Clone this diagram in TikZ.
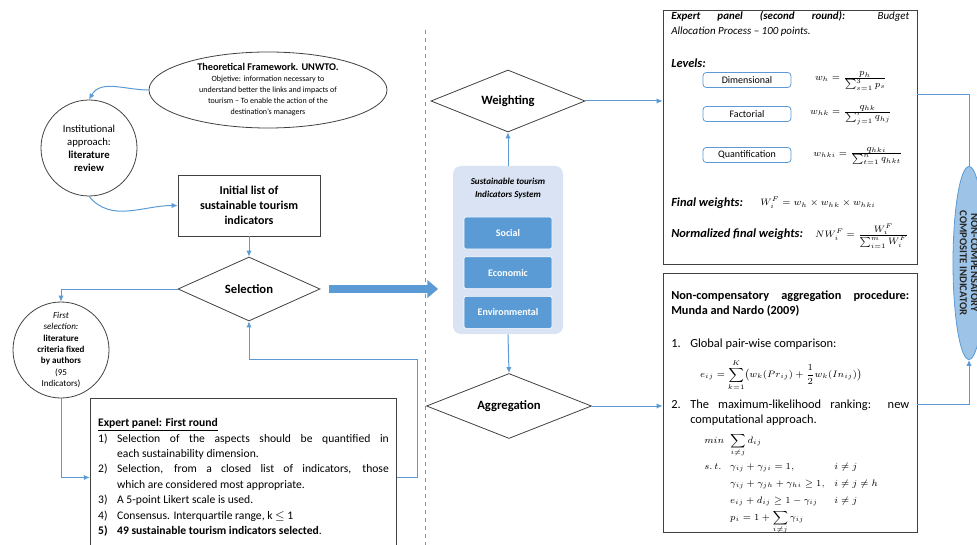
\documentclass[tikz,border=0pt]{standalone}
\usepackage{amsmath,amssymb}
\usepackage{fontspec}
\setmainfont{Carlito}
\usepackage{tikz}
\usetikzlibrary{shapes.geometric,arrows.meta,positioning}
\definecolor{linkblue}{HTML}{5B9BD5}
\definecolor{tierblue}{HTML}{5B9BD5}
\definecolor{paleblue}{HTML}{DAE3F3}
\definecolor{compblue}{HTML}{9DC3E6}
\definecolor{edgegray}{HTML}{404040}
\newcommand{\fsz}[2]{\fontsize{#1}{#2}\selectfont}
\newcommand{\itm}[2]{\par\noindent\hangindent=14.25pt\hangafter=1\makebox[14.25pt][l]{#1}#2}
\newcommand{\wfrac}[2]{\frac{\textstyle #1}{\textstyle #2}}

\tikzset{
  link/.style={draw=linkblue, line width=0.75pt, -{Latex[length=4.5pt,width=4pt]}},
  wire/.style={draw=linkblue, line width=0.75pt},
  decision/.style={diamond, draw=edgegray, line width=0.6pt, aspect=2.4, inner sep=0pt, font=\fsz{9.5}{11}\bfseries},
  tier/.style={fill=tierblue, draw=white, line width=0.5pt, rounded corners=1.5pt, minimum width=66pt, minimum height=24pt, inner sep=0pt, text=white, font=\fsz{7.5}{9}\bfseries},
  levelbox/.style={draw=linkblue, line width=0.6pt, rounded corners=2.5pt, minimum width=66pt, minimum height=11.25pt, inner sep=0pt, font=\fsz{7.5}{9}},
  panel/.style={draw=edgegray, line width=0.6pt},
  boldlabel/.style={anchor=west, inner sep=0pt, font=\fsz{9.3}{10}\bfseries\itshape}
}

\begin{document}
\begin{tikzpicture}[x=0.75pt,y=-0.75pt]
\useasboundingbox (0,0) rectangle (977,545);
\clip (0,0) rectangle (977,545);
% split line
\draw[linkblue, dashed, line width=0.6pt] (425,30) -- (425,548);

% left column
\node[ellipse, panel, minimum width=178.5pt, minimum height=57pt, inner sep=0pt, align=center, font=\fsz{6}{8.25}] (theo) at (268,90)
  {{\fsz{7.7}{9}\bfseries Theoretical Framework. UNWTO.}\\Objetive: information necessary to\\understand better the links and impacts of\\tourism -- To enable the action of the\\destination's managers};
\node[circle, panel, minimum size=72pt, inner sep=0pt, align=center, font=\fsz{8}{9.75}] (inst) at (89,148)
  {Institutional\\approach:\\\textbf{literature}\\\textbf{review}};
\node[panel, minimum width=106.5pt, minimum height=45.75pt, align=center, font=\fsz{9}{11.25}\bfseries] (init) at (249,205.5)
  {Initial list of\\sustainable tourism\\indicators};
\node[decision, minimum width=106.5pt, minimum height=48pt] (sel) at (249,289) {Selection};
\node[circle, panel, minimum size=72pt, inner sep=0pt, align=center, font=\fsz{6.8}{8.5}] (first) at (61,350)
  {\textit{First}\\\textit{selection:}\\\textbf{literature}\\\textbf{criteria fixed}\\\textbf{by authors}\\(95\\Indicators)};
\node[panel, anchor=north, text width=218pt, inner xsep=6pt, inner ysep=15pt, align=justify, font=\fsz{8.7}{11.6}] (panelA) at (243.5,398)
  {\noindent\underline{\textbf{Expert panel: First round}}
   \itm{1)}{Selection of the aspects should be quantified in\linebreak each sustainability dimension.}
   \itm{2)}{Selection, from a closed list of indicators, those\linebreak which are considered most appropriate.}
   \itm{3)}{A 5-point Likert scale is used.}
   \itm{4)}{Consensus. Interquartile range, k $\leq$ 1}
   \itm{\textbf{5)}}{\textbf{49 sustainable tourism indicators selected}.}
   \par\vspace{10pt}};

\draw[link] (theo.west) to[out=180,in=60] (inst.north);
\draw[link] (inst.south) to[out=-50,in=180] (init.west);
\draw[link] (init.south) -- (sel.north);
\draw[link] (sel.west) -| (first.north);
\draw[link] (first.south) |- (panelA.west);
\coordinate (turn) at (417,359);
\draw[link] (panelA.east) -| (turn) -| (sel.south);

% centre column
\node[decision, minimum width=115.5pt, minimum height=46.5pt] (wgt) at (508,101) {Weighting};
\node[fill=paleblue, rounded corners=6pt, minimum width=82.5pt, minimum height=126pt] (sys) at (508,250) {};
\node[below=6pt of sys.north, align=center, font=\fsz{6.8}{9.5}\bfseries\itshape] (systitle) {Sustainable tourism\\Indicators System};
\node[tier] (social) at (508,233) {Social};
\node[tier, below=5.25pt of social] (eco) {Economic};
\node[tier, below=5.25pt of eco] (env) {Environmental};
\node[decision, minimum width=123.75pt, minimum height=48.75pt] (agg) at (509,406) {Aggregation};

\draw[line width=6pt, tierblue, -{Triangle[length=8pt,width=13pt]}] ([xshift=6.75pt]sel.east) -- ([xshift=-11pt]sys.west |- sel.east);
\draw[link] (sys.north) -- (wgt.south);
\draw[link] (sys.south) -- (agg.north);

% right column: weighting
\node[panel, minimum width=190.5pt, minimum height=190.5pt] (panelB) at (790,137) {};
\node[anchor=north west, inner sep=0pt, text width=178.5pt, align=justify, font=\fsz{8.2}{11.25}\itshape] (budget) at (671,11)
  {\textbf{Expert panel (second round):} Budget\linebreak Allocation Process -- 100 points.};
\node[boldlabel] (levels) at (671,63) {Levels:};
\node[levelbox] (dim) at (747,80) {Dimensional};
\node[levelbox] (fac) at (747,114) {Factorial};
\node[levelbox] (qua) at (747,155) {Quantification};
\node[font=\fsz{7.3}{8}] (fdim) at (851,81) {$w_h=\wfrac{p_h}{\sum_{s=1}^{3}p_s}$};
\node[font=\fsz{7.3}{8}] (ffac) at (851,115) {$w_{hk}=\wfrac{q_{hk}}{\sum_{j=1}^{r}q_{hj}}$};
\node[font=\fsz{7.3}{8}] (fqua) at (858,156) {$w_{hki}=\wfrac{q_{hki}}{\sum_{t=1}^{n}q_{hkt}}$};
\node[boldlabel] (finlab) at (671,203) {Final weights:};
\node[font=\fsz{7.5}{8}] (finw) at (818,203) {$W_i^F=w_h\times w_{hk}\times w_{hki}$};
\node[boldlabel] (normlab) at (671,234) {Normalized final weights:};
\node[font=\fsz{7.5}{8}] (normw) at (862,236) {$NW_i^F=\wfrac{W_i^F}{\sum_{i=1}^{m}W_i^F}$};

% right column: aggregation
\node[panel, minimum width=190.5pt, minimum height=194.25pt] (panelC) at (790,402.5) {};
\node[anchor=north west, inner sep=0pt, text width=178.5pt, align=justify, font=\fsz{9.2}{11.25}\bfseries] (nctitle) at (671,291)
  {Non-compensatory aggregation procedure:\linebreak Munda and Nardo (2009)};
\node[anchor=west, inner sep=0pt, font=\fsz{9.3}{11.25}] (step1) at (671,344) {\makebox[14.25pt][l]{1.}Global pair-wise comparison:};
\node[font=\fsz{7.5}{9}] (eq1) at (781,375) {$\displaystyle e_{ij}=\sum_{k=1}^{K}\bigl(w_k(Pr_{ij})+\frac{1}{2}w_k(In_{ij})\bigr)$};
\node[anchor=north west, inner sep=0pt, font=\fsz{9.3}{11.25}] (step2) at (671,400)
  {\makebox[14.25pt][l]{2.}\parbox[t]{164.25pt}{\fsz{9.3}{11.25}The maximum-likelihood ranking: new\linebreak computational approach.}};
\node[anchor=north west, inner sep=0pt, font=\fsz{7.2}{8.5}] (opt) at (704,431)
  {$\renewcommand{\arraystretch}{1.5}\begin{array}{@{}l@{\;\;}l@{\quad}l@{}}
    min & \displaystyle\sum_{i\neq j} d_{ij} & \\
    s.\,t. & \gamma_{ij}+\gamma_{ji}=1, & i\neq j\\
     & \gamma_{ij}+\gamma_{jh}+\gamma_{hi}\geq 1, & i\neq j\neq h\\
     & e_{ij}+d_{ij}\geq 1-\gamma_{ij} & i\neq j\\
     & \displaystyle p_i=1+\sum_{i\neq j}\gamma_{ij} &
   \end{array}$};

\draw[link] (wgt.east) -- (wgt.east -| panelB.west);
\draw[link] (agg.east) -- (agg.east -| panelC.west);

% composite indicator
\node[ellipse, draw=linkblue, fill=compblue, line width=0.6pt, rotate=-90, minimum width=144.75pt, minimum height=24pt, inner sep=0pt, align=center, font=\fsz{8}{8.5}\bfseries, text=black!85] (comp) at (969,263)
  {NON-COMPENSATORY\\COMPOSITE INDICATOR};
\draw[wire] ([yshift=-63.75pt]panelB.north east) -| (comp.west);
\draw[link] ([yshift=-99pt]panelC.north east) -| (comp.east);
\end{tikzpicture}
\end{document}
